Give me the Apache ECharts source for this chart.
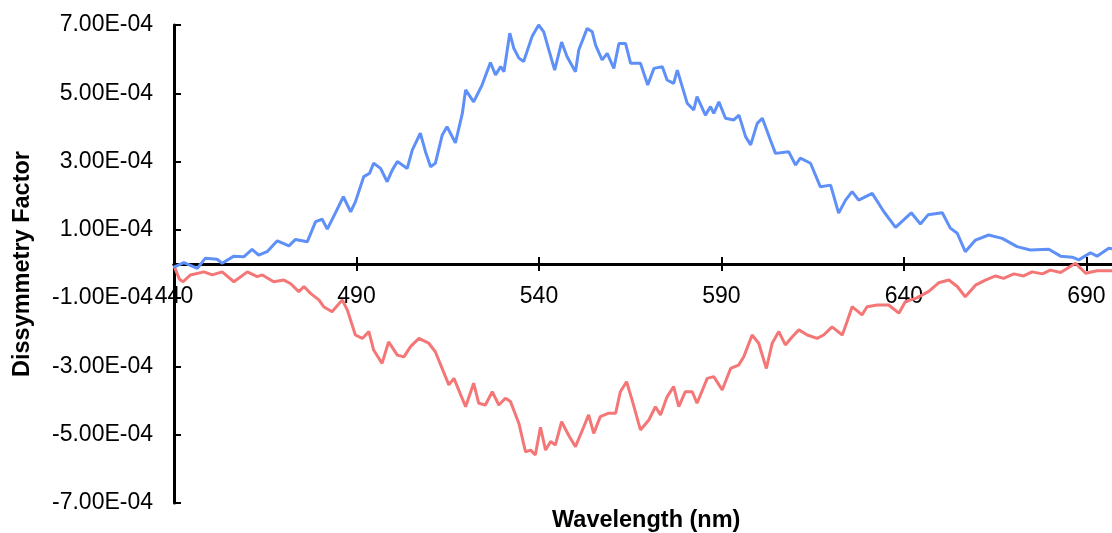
<!DOCTYPE html>
<html>
<head>
<meta charset="utf-8">
<script src="https://cdn.jsdelivr.net/npm/echarts@6/dist/echarts.min.js"></script>
<style>
  html, body { margin: 0; padding: 0; background: #fff; }
  #chart { width: 1112px; height: 533px; }
</style>
</head>
<body>
<div id="chart"></div>
<script>
// values of g are given in units of 1e-4
const SCALE = 1e-4;

const blueWl = [440, 442.7, 446.4, 448.6, 451.8, 453.2, 456.4, 459.1, 461.4, 463.2, 465.5, 468.3, 471.5, 473.3, 476.5,
  478.8, 480.6, 482, 484.2, 486.4, 488.4, 489.7, 492, 493.6, 494.7, 496.6, 498.4, 499.8, 501.2, 503.9, 505.3, 507.5,
  508.9, 510.3, 511.6, 513.5, 514.8, 517.1, 519, 519.9, 522.1, 524.4, 526.7, 528.1, 529.5, 530.4, 532, 533.1, 534.5,
  535.8, 538.1, 539.9, 541.3, 542.7, 544.3, 546.2, 547.7, 550, 550.9, 553.2, 554.6, 555.5, 557.3, 558.7, 560.5, 561.9,
  563.7, 565.1, 567.8, 569.8, 571.5, 573.8, 575.1, 576.9, 577.9, 580.6, 582.4, 583.3, 585.6, 587, 587.9, 589.3, 591.1,
  593.4, 594.8, 596.6, 598, 599.8, 601.2, 603.4, 604.8, 608.4, 610.3, 611.6, 614.4, 617.1, 619.9, 622.1, 624, 625.8,
  627.6, 631.3, 634.5, 637.7, 642, 644.5, 646.6, 650.5, 652.7, 654.6, 656.8, 659.6, 663.2, 666.9, 671, 674.6, 679.7,
  682.9, 686.1, 687.9, 691.1, 692.9, 696.1, 697];
const blueG = [-0.09, 0.04, -0.13, 0.17, 0.14, 0.02, 0.23, 0.21, 0.43, 0.26, 0.36, 0.68, 0.53, 0.72, 0.65,
  1.24, 1.31, 1.02, 1.49, 1.97, 1.53, 1.82, 2.56, 2.66, 2.95, 2.80, 2.41, 2.75, 3.0, 2.80, 3.34, 3.83,
  3.29, 2.85, 2.95, 3.78, 4.02, 3.55, 4.41, 5.10, 4.75, 5.24, 5.90, 5.54, 5.78, 5.63, 6.76, 6.32, 6.03,
  5.93, 6.66, 7.0, 6.8, 6.27, 5.68, 6.5, 6.07, 5.63, 6.27, 6.90, 6.80, 6.41, 5.98, 6.17, 5.73, 6.46,
  6.46, 5.88, 5.88, 5.24, 5.73, 5.78, 5.39, 5.29, 5.68, 4.71, 4.51, 4.90, 4.36, 4.61, 4.41, 4.75, 4.27,
  4.22, 4.36, 3.73, 3.49, 4.12, 4.27, 3.63, 3.24, 3.29, 2.90, 3.10, 2.95, 2.26, 2.31, 1.49, 1.87, 2.12,
  1.87, 2.07, 1.53, 1.07, 1.50, 1.17, 1.44, 1.50, 1.05, 0.90, 0.36, 0.70, 0.85, 0.75, 0.51, 0.41, 0.43,
  0.23, 0.20, 0.12, 0.33, 0.23, 0.46, 0.45];

const redWl = [440, 441.5, 442.5, 444.5, 448.2, 450.5, 453.2, 456.4, 460.1, 462.8, 464.2, 467.3, 470.1, 471.9, 474.2,
  475.6, 477.4, 479.7, 481, 483.3, 486.1, 487.5, 489.7, 491.6, 493.4, 494.7, 497, 498.8, 501.2, 503, 504.8, 507.1,
  509.8, 511.6, 515.3, 516.7, 519.9, 522.1, 523.5, 525.3, 527.2, 529, 530.8, 532.2, 534.5, 536.3, 537.7, 539, 540.4,
  541.8, 543.2, 544.5, 546.2, 548.2, 550, 552.3, 553.6, 555, 556.8, 559.1, 561, 562.3, 564, 565.5, 567.8, 570.1,
  571.9, 573.3, 575.1, 576.9, 578.3, 580.1, 582, 583.3, 586.1, 587.9, 590.2, 592.5, 594.7, 596.1, 598.4, 600.2,
  602.3, 603.9, 605.7, 607.5, 609.4, 611.2, 613.5, 616.2, 618, 620.3, 623.1, 624.4, 625.8, 628.5, 629.9, 632.7,
  635.8, 638.6, 640.4, 643.4, 646.8, 649.5, 652.3, 654.6, 656.8, 659.6, 662.3, 665.1, 667.3, 670.1, 672.8, 675.1,
  677.9, 680.1, 682.9, 684.7, 687, 689.8, 692.9, 697];
const redG = [-0.05, -0.45, -0.52, -0.32, -0.23, -0.32, -0.23, -0.52, -0.23, -0.37, -0.32, -0.52, -0.47, -0.57, -0.81,
  -0.66, -0.86, -1.05, -1.25, -1.40, -1.05, -1.35, -2.08, -2.18, -1.98, -2.52, -2.91, -2.28, -2.67, -2.72, -2.42, -2.18,
  -2.32, -2.57, -3.54, -3.35, -4.18, -3.49, -4.08, -4.13, -3.74, -4.13, -3.93, -4.03, -4.67, -5.50, -5.45, -5.59, -4.78,
  -5.45, -5.20, -5.30, -4.62, -5.03, -5.35, -4.76, -4.42, -4.96, -4.47, -4.37, -4.37, -3.74, -3.45, -3.98, -4.86, -4.57,
  -4.18, -4.42, -3.89, -3.59, -4.18, -3.74, -3.74, -4.08, -3.35, -3.30, -3.69, -3.06, -2.96, -2.72, -2.08, -2.32,
  -3.06, -2.32, -1.98, -2.37, -2.13, -1.93, -2.08, -2.18, -2.08, -1.84, -2.08, -1.69, -1.25, -1.49, -1.25, -1.20,
  -1.20, -1.44, -1.10, -1.0, -0.80, -0.55, -0.47, -0.66, -0.96, -0.62, -0.47, -0.35, -0.42, -0.29, -0.35, -0.23,
  -0.29, -0.18, -0.25, -0.13, 0.02, -0.27, -0.20, -0.20];

const xTicks = [440, 490, 540, 590, 640, 690];

function pairs(xs, ys) {
  return xs.map((x, i) => [x, ys[i] * SCALE]);
}

// 7e-4 -> "7.00E-04"
function sciLabel(v) {
  const parts = v.toExponential(2).split('e');
  const e = parseInt(parts[1], 10);
  return parts[0] + 'E' + (e < 0 ? '-' : '+') + String(Math.abs(e)).padStart(2, '0');
}

const font = 'Liberation Sans, Arial, sans-serif';
const chart = echarts.init(document.getElementById('chart'));

const xBase = { type: 'value', min: 440, max: 697, position: 'bottom', splitLine: { show: false } };

chart.setOption({
  animation: false,
  title: {
    text: 'Wavelength (nm)',
    left: 552,
    top: 509,
    padding: 0,
    textStyle: { fontFamily: font, fontSize: 23.5, fontWeight: 'bold', color: '#000' }
  },
  grid: { left: 174, right: 0, top: 25, bottom: 30, containLabel: false, outerBoundsMode: 'none' },
  xAxis: [
    {
      // line at g = 0 with ticks pointing down
      ...xBase,
      axisLine: { onZero: true, onZeroAxisIndex: 0, lineStyle: { color: '#000', width: 3 } },
      axisTick: { show: true, inside: false, length: 7, customValues: xTicks, lineStyle: { color: '#000', width: 2 } },
      axisLabel: { show: false }
    },
    {
      // same line, ticks pointing up
      ...xBase,
      axisLine: { onZero: true, onZeroAxisIndex: 0, lineStyle: { color: '#000', width: 3 } },
      axisTick: { show: true, inside: true, length: 7, customValues: xTicks, lineStyle: { color: '#000', width: 2 } },
      axisLabel: { show: false }
    },
    {
      // labels only, moved up to the zero line
      ...xBase,
      offset: -239,
      axisLine: { show: false, onZero: false },
      axisTick: { show: false },
      axisLabel: { customValues: xTicks, margin: 21, fontFamily: font, fontSize: 23, color: '#000' }
    }
  ],
  yAxis: {
    type: 'value',
    min: -7e-4,
    max: 7e-4,
    interval: 2e-4,
    name: 'Dissymmetry Factor',
    nameLocation: 'middle',
    nameRotate: 90,
    nameGap: 139,
    nameTextStyle: { fontFamily: font, fontSize: 23.5, fontWeight: 'bold', color: '#000' },
    axisLine: { show: true, onZero: false, lineStyle: { color: '#000', width: 3 } },
    axisTick: { show: true, inside: true, length: 7, lineStyle: { color: '#000', width: 2 } },
    axisLabel: { margin: 21, padding: [5, 0, 0, 0], fontFamily: font, fontSize: 23, color: '#000', formatter: sciLabel },
    splitLine: { show: false }
  },
  series: [
    {
      name: 'left',
      type: 'line',
      showSymbol: false,
      data: pairs(blueWl, blueG),
      lineStyle: { color: '#5E90F7', width: 3 },
      itemStyle: { color: '#5E90F7' },
      z: 3
    },
    {
      name: 'right',
      type: 'line',
      showSymbol: false,
      data: pairs(redWl, redG),
      lineStyle: { color: '#F47676', width: 3 },
      itemStyle: { color: '#F47676' },
      z: 2
    }
  ]
});
</script>
</body>
</html>
